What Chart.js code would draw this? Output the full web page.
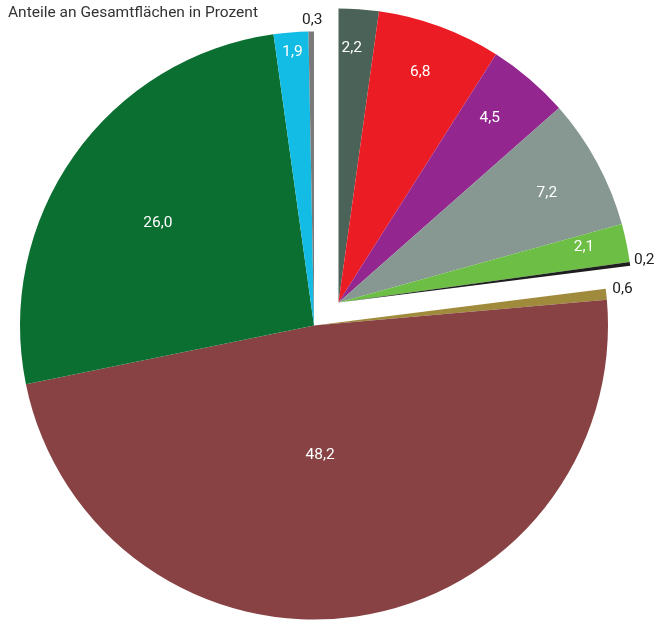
<!DOCTYPE html>
<html>
<head>
<meta charset="utf-8">
<script src="https://cdn.jsdelivr.net/npm/chart.js@4.4.0/dist/chart.umd.min.js"></script>
<style>
html,body{margin:0;padding:0;background:#fff;}
canvas{display:block;}
</style>
</head>
<body>
<canvas id="c" width="672" height="620"></canvas>
<script>
// ---- data ----
const titleText = 'Anteile an Gesamtflächen in Prozent';
const categories = ['Segment 1','Segment 2','Segment 3','Segment 4','Segment 5','Segment 6','Segment 7','Segment 8','Segment 9','Segment 10','Segment 11'];
const values = [2.2, 6.8, 4.5, 7.2, 2.1, 0.2, 0.6, 48.2, 26.0, 1.9, 0.3];
const exploded = [true, true, true, true, true, true, false, false, false, false, false];

// ---- styles ----
const colors = ['#4a6258','#ec1c24','#93268f','#869891','#6dbe45','#1e1e1e','#a08b3c','#884244','#0b6f31','#12bce4','#7a7a7a'];
const EXPLODE_DX = 24.5, EXPLODE_DY = -23;
const FONT = '15.5px Roboto, "Liberation Sans", sans-serif';
// inside labels: frac of radius + angle adjust (deg); outside: offset from edge
const labelStyle = [
  {inside:true, frac:0.867, adj:-1.0},
  {inside:true, frac:0.83, adj:-0.6},
  {inside:true, frac:0.81, adj:-1.1},
  {inside:true, frac:0.80, adj:0.8},
  {inside:true, frac:0.856, adj:-1.0},
  {inside:false, dx:4, dy:-4, align:'left'},
  {inside:false, dx:6, dy:-5, align:'left'},
  {inside:true, frac:0.44, adj:5.6},
  {inside:true, frac:0.635, adj:-2.0},
  {inside:true, frac:0.934, adj:0},
  {inside:false, dx:1, dy:-11.5, align:'center'}
];

function fmt(v){ return v.toLocaleString('de-DE',{minimumFractionDigits:1, maximumFractionDigits:1}); }

const explodePlugin = {
  id:'explode',
  beforeDatasetsDraw(chart){
    const meta = chart.getDatasetMeta(0);
    const ca = chart.chartArea;
    const cx = (ca.left + ca.right)/2 + (meta.controller.offsetX || 0);
    const cy = (ca.top + ca.bottom)/2 + (meta.controller.offsetY || 0);
    meta.data.forEach((arc,i)=>{
      arc.x = cx + (exploded[i] ? EXPLODE_DX : 0);
      arc.y = cy + (exploded[i] ? EXPLODE_DY : 0);
    });
  }
};

const labelPlugin = {
  id:'labels',
  afterDatasetsDraw(chart){
    const ctx = chart.ctx;
    const meta = chart.getDatasetMeta(0);
    ctx.save();
    ctx.font = FONT;
    ctx.textBaseline = 'middle';
    meta.data.forEach((arc,i)=>{
      const st = labelStyle[i];
      const mid = (arc.startAngle + arc.endAngle)/2;
      const r = arc.outerRadius;
      let x, y;
      if (st.inside){
        const a = mid + st.adj*Math.PI/180;
        x = arc.x + Math.cos(a)*r*st.frac;
        y = arc.y + Math.sin(a)*r*st.frac;
        ctx.fillStyle = '#ffffff';
        ctx.textAlign = 'center';
      } else {
        x = arc.x + Math.cos(mid)*r + st.dx;
        y = arc.y + Math.sin(mid)*r + st.dy;
        ctx.fillStyle = '#222222';
        ctx.textAlign = st.align;
      }
      ctx.fillText(fmt(values[i]), x, y);
    });
    // title
    ctx.font = FONT;
    ctx.fillStyle = '#333333';
    ctx.textAlign = 'left';
    ctx.textBaseline = 'alphabetic';
    ctx.fillText(titleText, 8, 17.3);
    ctx.restore();
  }
};

new Chart(document.getElementById('c'), {
  type:'pie',
  data:{
    labels: categories,
    datasets:[{ data: values, backgroundColor: colors, borderWidth: 0, hoverOffset: 0 }]
  },
  options:{
    responsive:false,
    animation:false,
    layout:{ padding:{ left:20, right:64, top:31, bottom:0 } },
    plugins:{ legend:{display:false}, tooltip:{enabled:false}, title:{display:false} },
    events: []
  },
  plugins:[explodePlugin, labelPlugin]
});
</script>
</body>
</html>
